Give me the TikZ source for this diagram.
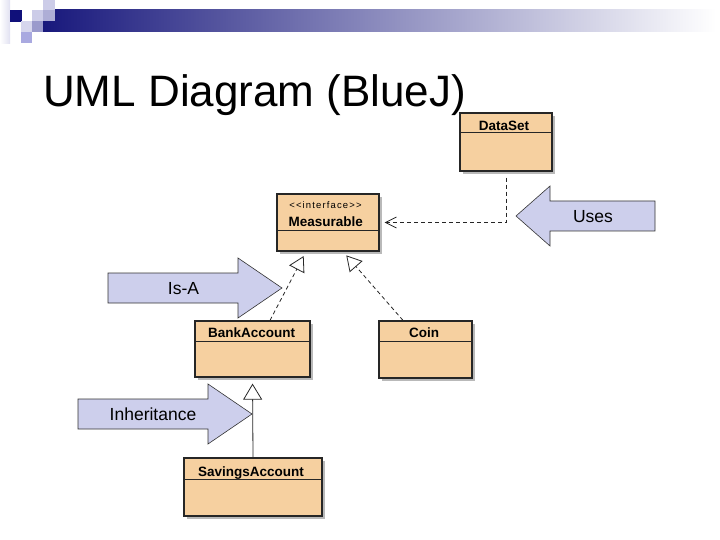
\documentclass[tikz,border=0pt]{standalone}
\usepackage{fontspec}
\setmainfont{Liberation Sans}
\usetikzlibrary{arrows.meta,shadows,positioning}
\definecolor{classfill}{RGB}{246,208,160}
\definecolor{calloutfill}{RGB}{205,207,236}
\definecolor{barnavy}{RGB}{24,24,124}
\definecolor{bargray}{RGB}{172,172,192}
\definecolor{sqnavy}{RGB}{16,16,122}
\definecolor{sqlight}{RGB}{204,204,232}
\definecolor{sqmid}{RGB}{154,154,204}
\tikzset{umlclass/.style={draw=black!85, line width=1.2pt, fill=classfill, inner sep=0pt,
    drop shadow={shadow xshift=3pt, shadow yshift=-3pt, fill=black!50, opacity=0.55},
    path picture={\draw[line width=1pt] ([yshift=-#1]path picture bounding box.north west)
        -- ([yshift=-#1]path picture bounding box.north east);}},
    umlclass/.default=20pt}
\tikzset{classname/.style={font=\fontsize{13.5}{15}\selectfont\bfseries, inner sep=0pt, anchor=base}}
\tikzset{stereo/.style={font=\fontsize{9.5}{11}\selectfont\addfontfeatures{LetterSpace=12}, inner sep=0pt, anchor=base}}
\tikzset{callout/.style={draw=black!80, line width=0.6pt, fill=calloutfill}}
\tikzset{calloutlabel/.style={font=\fontsize{17.5}{20}\selectfont, inner sep=0pt, anchor=base}}
\tikzset{uses/.style={draw=black!85, line width=0.8pt, dash pattern=on 4pt off 3pt,
    shorten <=6pt, shorten >=5pt, -{Straight Barb[length=11pt,width=11pt]}}}
\tikzset{realize/.style={draw=black!85, line width=0.8pt, dash pattern=on 4pt off 3pt,
    shorten >=5pt, -{Triangle[open,length=15pt,width=17pt]}}}
\tikzset{extends/.style={draw=black!85, line width=0.8pt,
    shorten >=6pt, -{Triangle[open,length=16pt,width=19pt]}}}

\begin{document}
\begin{tikzpicture}[x=1pt,y=-1pt]
\useasboundingbox (0,0) rectangle (720,540);
% slide header
\fill[left color=barnavy, middle color=bargray, right color=white] (43,10) rectangle (716,32);
\fill[left color=white, right color=sqlight!60] (0,0) rectangle (10,44);
\fill[sqnavy] (10,10) rectangle (22,22);
\fill[sqlight] (32,10) rectangle (43,21);
\fill[sqmid!80] (43,10) rectangle (55,21);
\fill[sqlight] (43,0) rectangle (55,10);
\fill[sqlight!80] (21,21) rectangle (32,32);
\fill[sqmid] (32,21) rectangle (43,32);
\fill[sqmid!110!black] (21,32) rectangle (32,43);
\node[font=\fontsize{44}{50}\selectfont, inner sep=0pt, anchor=base west] (title) at (43,106.7) {UML Diagram (BlueJ)};

% classes
\node[umlclass, minimum width=92pt, minimum height=58pt] (dataset) at (506,142) {};
\node[umlclass=37pt, minimum width=102pt, minimum height=57pt] (measurable) at (328,222.5) {};
\node[umlclass, minimum width=115pt, minimum height=56pt] (bankaccount) at (252.5,349) {};
\node[umlclass=20.5pt, minimum width=93pt, minimum height=57pt] (coin) at (425.5,349.5) {};
\node[umlclass=21pt, minimum width=138pt, minimum height=58pt] (savings) at (253,487) {};

\node[classname] (dataset-name) at (504,130.7) {DataSet};
\node[stereo] (measurable-stereo) at (325.5,208.5) {<{}<interface>{}>};
\node[classname] (measurable-name) at (325.7,226.7) {Measurable};
\node[classname] (bankaccount-name) at (251.7,337.3) {BankAccount};
\node[classname] (coin-name) at (424,337.3) {Coin};
\node[classname] (savings-name) at (251,476) {SavingsAccount};

% relations
\draw[uses] (dataset.south) |- (measurable.east);
\draw[realize] ([xshift=17.5pt]bankaccount.north) -- ([xshift=-22pt]measurable.south);
\draw[realize] ([xshift=-22.5pt]coin.north) -- ([xshift=15pt]measurable.south);
\draw[extends] (savings.north) -- (bankaccount.south);

% callouts
\draw[callout] (516,216) -- (550,186) -- (550,201) -- (655,201) -- (655,231) -- (550,231) -- (550,246) -- cycle;
\draw[callout] (108,273) -- (238,273) -- (238,258) -- (282,288) -- (238,318) -- (238,303) -- (108,303) -- cycle;
\draw[callout] (78,399) -- (208,399) -- (208,384) -- (252,414) -- (208,444) -- (208,429) -- (78,429) -- cycle;
\node[calloutlabel] (uses-label) at (593,222.7) {Uses};
\node[calloutlabel] (isa-label) at (183.5,294) {Is-A};
\node[calloutlabel] (inheritance-label) at (153,420.7) {Inheritance};
\end{tikzpicture}
\end{document}
